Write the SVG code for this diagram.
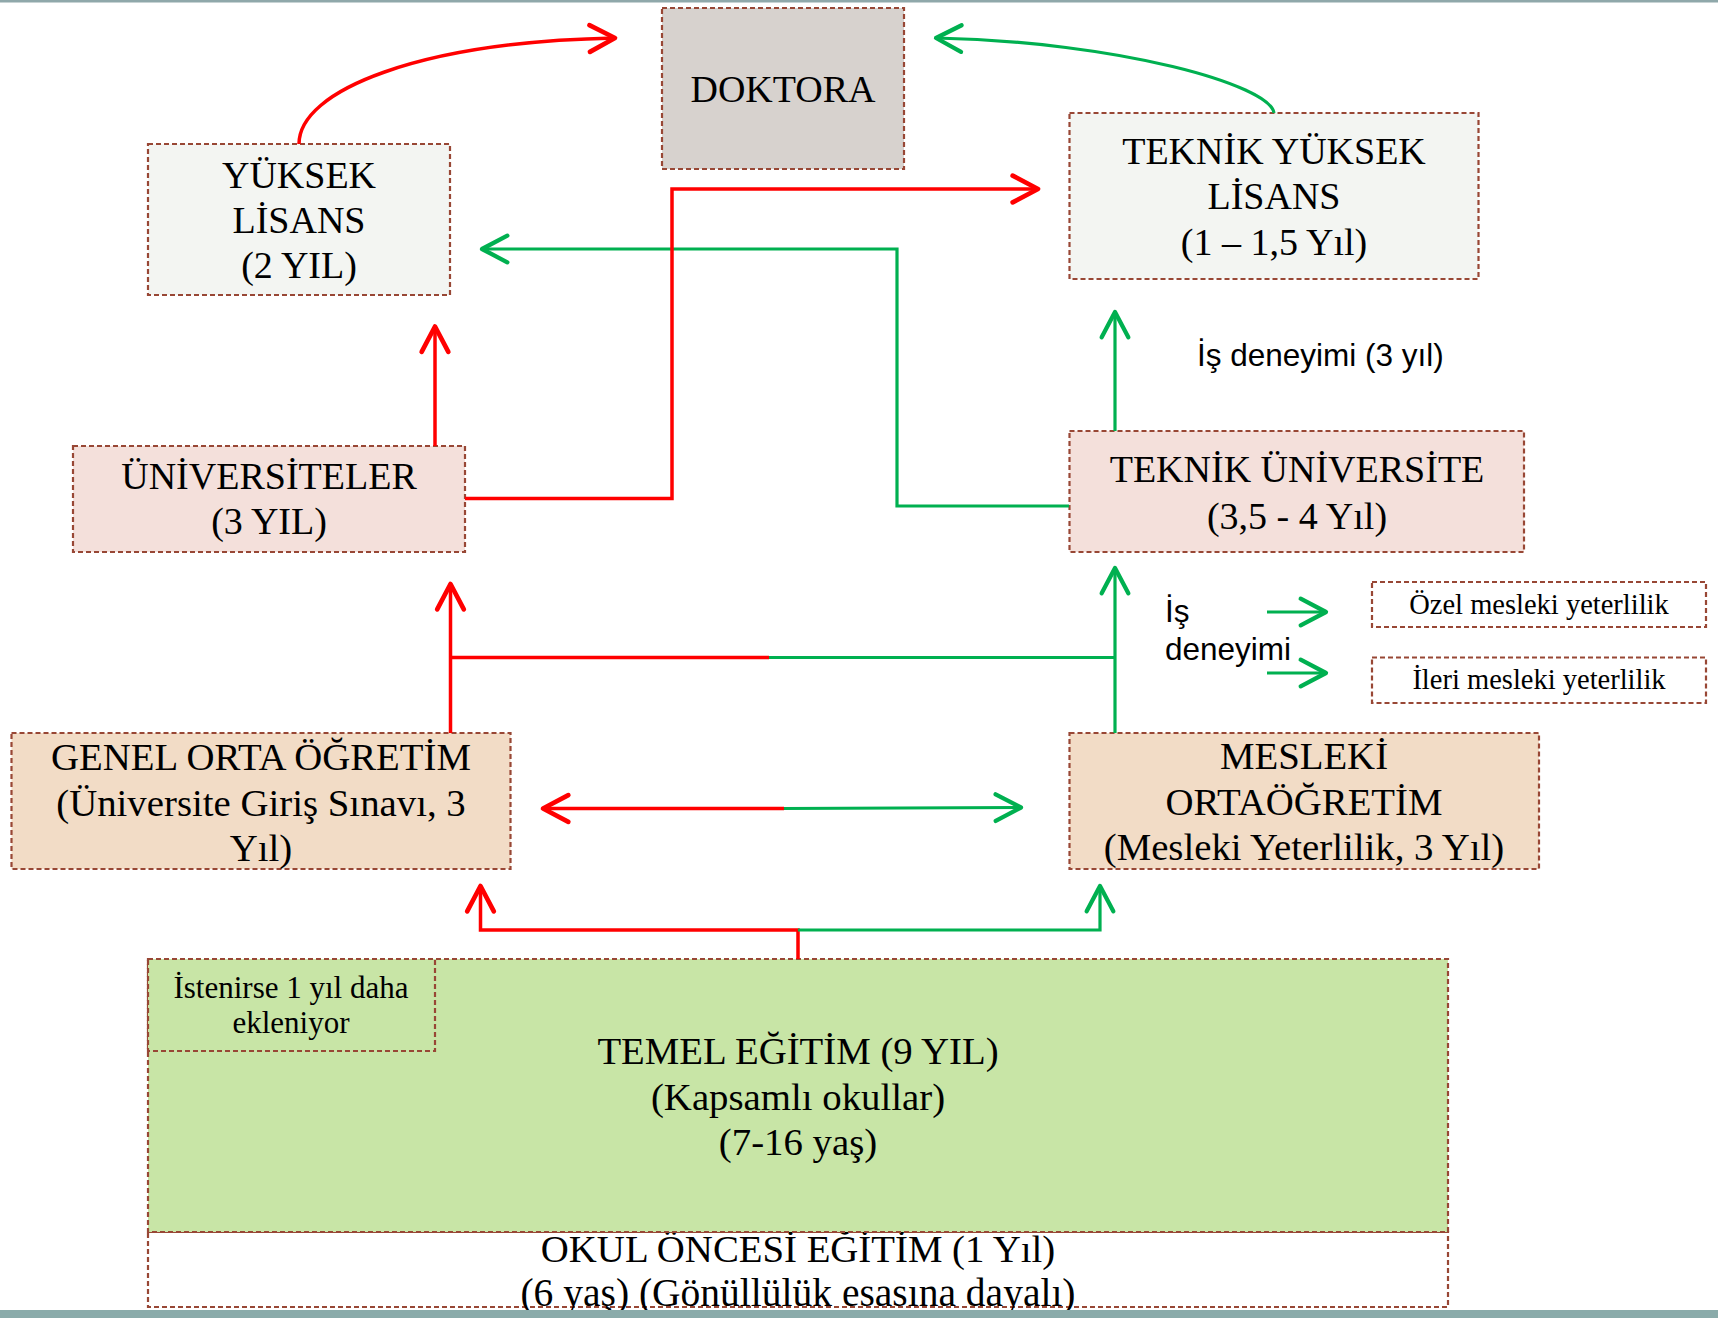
<svg xmlns="http://www.w3.org/2000/svg" width="1718" height="1318" viewBox="0 0 1718 1318">
<style>
.box{stroke:#984735;stroke-width:2.2;stroke-dasharray:5 3}
.t{font-family:"Liberation Serif","Times New Roman",serif;font-size:38px;fill:#000;text-anchor:middle}
.s{font-family:"Liberation Serif","Times New Roman",serif;font-size:28.5px;fill:#000;text-anchor:middle}
.sans{font-family:"Liberation Sans",Arial,sans-serif;font-size:31.5px;fill:#000}
.r{fill:none;stroke:#FF0000;stroke-width:3.5}
.g{fill:none;stroke:#00B050;stroke-width:3.2}
</style>
<defs>
<marker id="ar" markerUnits="userSpaceOnUse" markerWidth="40" markerHeight="40" viewBox="-25 -15 30 30" refX="0" refY="0" orient="auto" overflow="visible">
<path d="M-19,-10 L0,0 L-19,10" fill="none" stroke="#FF0000" stroke-width="3.5" stroke-linecap="round" stroke-linejoin="round"/>
</marker>
<marker id="ag" markerUnits="userSpaceOnUse" markerWidth="40" markerHeight="40" viewBox="-25 -15 30 30" refX="0" refY="0" orient="auto" overflow="visible">
<path d="M-19,-10 L0,0 L-19,10" fill="none" stroke="#00B050" stroke-width="3.2" stroke-linecap="round" stroke-linejoin="round"/>
</marker>
</defs>
<rect x="0" y="0" width="1718" height="1318" fill="#FFFFFF"/>
<rect x="0" y="0" width="1718" height="2.5" fill="#8FA8AA"/>

<g id="doktora">
<rect class="box" x="662" y="8" width="242" height="161" fill="#D7D2CE"/>
<text class="t" x="783" y="102">DOKTORA</text>
</g>
<g id="yuksek-lisans">
<rect class="box" x="148" y="144" width="302" height="151" fill="#F3F5F2"/>
<text class="t" x="299" y="188">YÜKSEK</text>
<text class="t" x="299" y="233">LİSANS</text>
<text class="t" x="299" y="278">(2 YIL)</text>
</g>
<g id="teknik-yuksek-lisans">
<rect class="box" x="1069.5" y="113" width="409" height="166" fill="#F3F5F2"/>
<text class="t" x="1274" y="164">TEKNİK YÜKSEK</text>
<text class="t" x="1274" y="209">LİSANS</text>
<text class="t" x="1274" y="255">(1 – 1,5 Yıl)</text>
</g>
<g id="universiteler">
<rect class="box" x="73" y="446" width="392" height="106" fill="#F4E0DB"/>
<text class="t" x="269" y="489">ÜNİVERSİTELER</text>
<text class="t" x="269" y="534">(3 YIL)</text>
</g>
<g id="teknik-universite">
<rect class="box" x="1069.5" y="431" width="454.5" height="121" fill="#F4E0DB"/>
<text class="t" x="1297" y="482">TEKNİK ÜNİVERSİTE</text>
<text class="t" x="1297" y="529">(3,5 - 4 Yıl)</text>
</g>
<g id="genel-orta">
<rect class="box" x="11.5" y="733" width="499" height="136" fill="#F2DCC6"/>
<text class="t" x="261" y="770" style="font-size:38.8px">GENEL ORTA ÖĞRETİM</text>
<text class="t" x="261" y="816" style="font-size:38.8px">(Üniversite Giriş Sınavı, 3</text>
<text class="t" x="261" y="861" style="font-size:38.8px">Yıl)</text>
</g>
<g id="mesleki-orta">
<rect class="box" x="1069.5" y="733" width="469.5" height="136" fill="#F2DCC6"/>
<text class="t" x="1304" y="769" style="font-size:38.8px">MESLEKİ</text>
<text class="t" x="1304" y="815" style="font-size:38.8px">ORTAÖĞRETİM</text>
<text class="t" x="1304" y="860" style="font-size:38.8px">(Mesleki Yeterlilik, 3 Yıl)</text>
</g>
<g id="ozel">
<rect class="box" x="1372" y="582" width="334" height="45" fill="#FFFFFF"/>
<text class="s" x="1539" y="614">Özel mesleki yeterlilik</text>
</g>
<g id="ileri">
<rect class="box" x="1372" y="657.5" width="334" height="45.5" fill="#FFFFFF"/>
<text class="s" x="1539" y="689">İleri mesleki yeterlilik</text>
</g>
<g id="okul-oncesi">
<rect class="box" x="148" y="1232" width="1300" height="75" fill="#FFFFFF"/>
<text class="t" x="798" y="1262" style="font-size:38.8px">OKUL ÖNCESİ EĞİTİM (1 Yıl)</text>
<text class="t" x="798" y="1306" style="font-size:39.5px">(6 yaş) (Gönüllülük esasına dayalı)</text>
</g>
<g id="temel">
<rect class="box" x="148" y="959" width="1300" height="273" fill="#C8E5A6"/>
<text class="t" x="798" y="1064" style="font-size:38.8px">TEMEL EĞİTİM (9 YIL)</text>
<text class="t" x="798" y="1110" style="font-size:38.8px">(Kapsamlı okullar)</text>
<text class="t" x="798" y="1155" style="font-size:38.8px">(7-16 yaş)</text>
</g>
<g id="istenirse">
<rect class="box" x="148" y="959" width="287" height="92" fill="#C8E5A6"/>
<text class="s" x="291" y="998" style="font-size:31px">İstenirse 1 yıl daha</text>
<text class="s" x="291" y="1033" style="font-size:31px">ekleniyor</text>
</g>
<g id="labels">
<text class="sans" x="1197" y="366">İş deneyimi (3 yıl)</text>
<text class="sans" x="1165" y="622">İş</text>
<text class="sans" x="1165" y="660">deneyimi</text>
</g>

<g id="connectors">
<path class="r" d="M299,144 C299,90 420,42 615,38" marker-end="url(#ar)"/>
<path class="g" d="M1274,113 C1270,85 1120,42 936,38" marker-end="url(#ag)"/>
<path class="g" d="M1069,506 H897 V249 H482" marker-end="url(#ag)"/>
<path class="r" d="M465,498.5 H672 V189 H1038" marker-end="url(#ar)"/>
<path class="r" d="M435,446 V326.5" marker-end="url(#ar)"/>
<path class="g" d="M1115,431 V312" marker-end="url(#ag)"/>
<path class="r" d="M450.5,733 V584" marker-end="url(#ar)"/>
<path class="r" d="M450.5,657.5 H769"/>
<path class="g" d="M769,657.5 H1115"/>
<path class="g" d="M1115,733 V568" marker-end="url(#ag)"/>
<path class="r" d="M784,808.5 H543" marker-end="url(#ar)"/>
<path class="g" d="M784,808.5 L1021,807.5" marker-end="url(#ag)"/>
<path class="g" d="M1267,612 H1326" marker-end="url(#ag)"/>
<path class="g" d="M1267,673 H1326" marker-end="url(#ag)"/>
<path class="r" d="M798,959 V930 H480.5 V886" marker-end="url(#ar)"/>
<path class="g" d="M798,930 H1100 V886" marker-end="url(#ag)"/>
</g>

<rect x="0" y="1310" width="1718" height="8" fill="#8AABAA"/>
</svg>
